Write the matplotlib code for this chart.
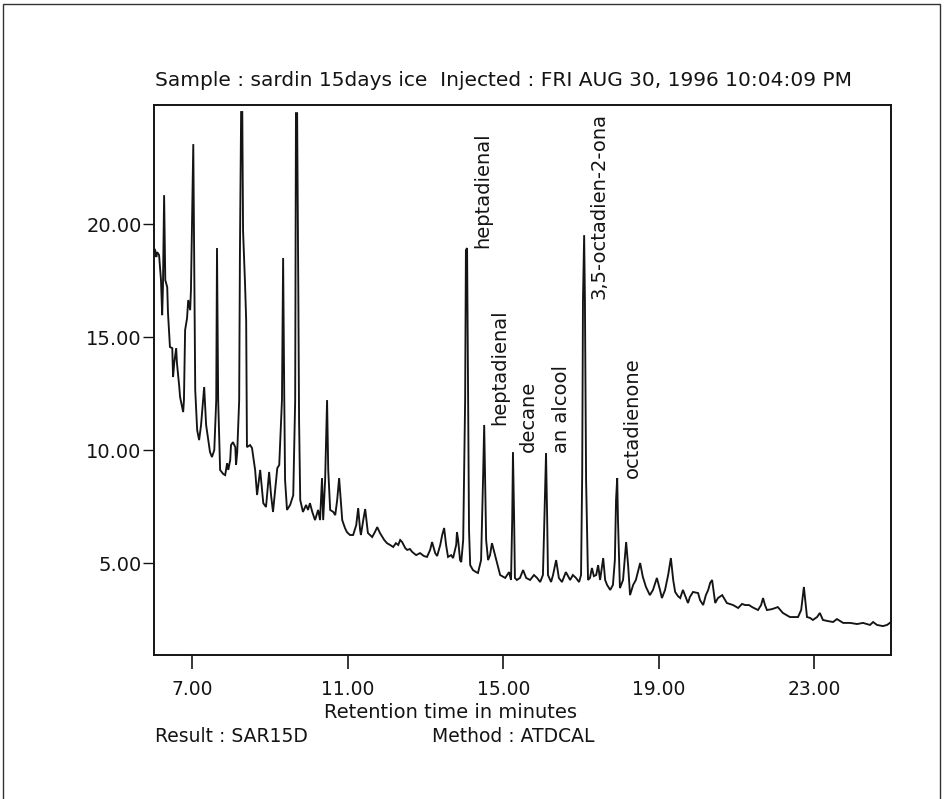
import matplotlib
matplotlib.use("Agg")
import matplotlib.pyplot as plt
from matplotlib.patches import Rectangle

# Chromatogram trace: retention time (min) and detector response
retention_min = [
    6.03, 6.05, 6.08, 6.10, 6.15, 6.20, 6.23, 6.25, 6.28, 6.31, 6.36, 6.38, 6.43, 6.49,
    6.51, 6.54, 6.59, 6.61, 6.67, 6.69, 6.77, 6.79, 6.82, 6.87, 6.90, 6.95, 6.97, 7.03,
    7.08, 7.13, 7.18, 7.23, 7.31, 7.36, 7.39, 7.46, 7.51, 7.57, 7.62, 7.64, 7.67, 7.72,
    7.80, 7.85, 7.90, 7.93, 7.98, 8.00, 8.05, 8.11, 8.13, 8.16, 8.21, 8.23, 8.26, 8.29,
    8.31, 8.36, 8.39, 8.41, 8.49, 8.54, 8.62, 8.67, 8.75, 8.83, 8.90, 8.98, 9.03, 9.08,
    9.19, 9.24, 9.31, 9.34, 9.37, 9.39, 9.44, 9.52, 9.60, 9.65, 9.67, 9.70, 9.73, 9.75,
    9.78, 9.85, 9.93, 9.98, 10.03, 10.09, 10.16, 10.24, 10.29, 10.34, 10.37, 10.42, 10.47,
    10.50, 10.55, 10.63, 10.68, 10.73, 10.78, 10.83, 10.86, 10.93, 10.98, 11.06, 11.14,
    11.22, 11.27, 11.32, 11.34, 11.40, 11.45, 11.52, 11.63, 11.70, 11.76, 11.83, 11.94,
    12.01, 12.09, 12.17, 12.24, 12.30, 12.35, 12.40, 12.48, 12.53, 12.60, 12.66, 12.76,
    12.86, 12.96, 13.04, 13.12, 13.17, 13.25, 13.30, 13.38, 13.43, 13.48, 13.53, 13.58,
    13.66, 13.71, 13.79, 13.81, 13.84, 13.89, 13.92, 13.97, 14.02, 14.04, 14.07, 14.10,
    14.12, 14.15, 14.22, 14.30, 14.35, 14.43, 14.48, 14.51, 14.53, 14.56, 14.61, 14.66,
    14.71, 14.79, 14.84, 14.92, 15.05, 15.15, 15.20, 15.23, 15.25, 15.28, 15.30, 15.35,
    15.43, 15.51, 15.59, 15.69, 15.79, 15.87, 15.95, 16.02, 16.05, 16.10, 16.13, 16.15,
    16.23, 16.28, 16.36, 16.43, 16.51, 16.61, 16.72, 16.79, 16.87, 16.95, 17.00, 17.03,
    17.05, 17.08, 17.10, 17.13, 17.18, 17.23, 17.28, 17.33, 17.39, 17.44, 17.49, 17.57,
    17.62, 17.67, 17.75, 17.82, 17.87, 17.90, 17.93, 17.95, 18.00, 18.08, 18.16, 18.21,
    18.26, 18.34, 18.41, 18.52, 18.59, 18.67, 18.77, 18.85, 18.95, 19.03, 19.08, 19.16,
    19.24, 19.31, 19.37, 19.42, 19.49, 19.55, 19.62, 19.70, 19.75, 19.80, 19.88, 20.01,
    20.06, 20.14, 20.21, 20.27, 20.32, 20.37, 20.45, 20.52, 20.63, 20.75, 20.91, 21.04,
    21.14, 21.22, 21.32, 21.40, 21.55, 21.63, 21.68, 21.73, 21.78, 21.91, 22.06, 22.19,
    22.37, 22.58, 22.66, 22.73, 22.81, 22.89, 22.96, 23.07, 23.14, 23.22, 23.35, 23.48,
    23.58, 23.74, 23.92, 24.10, 24.25, 24.35, 24.43, 24.51, 24.61, 24.76, 24.87, 24.97,
]
response = [
    18.90, 18.85, 18.54, 18.76, 18.63, 17.52, 15.97, 17.21, 21.28, 17.52, 17.21, 16.06, 14.56, 14.51,
    13.23, 13.85, 14.51, 13.85, 12.79, 12.35, 11.68, 12.21, 15.31, 15.84, 16.64, 16.19, 17.08, 23.54,
    12.65, 10.88, 10.44, 11.11, 12.79, 11.11, 10.75, 9.91, 9.69, 10.00, 12.20, 18.94, 12.20, 9.12,
    8.94, 8.89, 9.42, 9.12, 9.56, 10.22, 10.35, 10.13, 9.34, 9.91, 12.20, 18.85, 24.96, 24.96,
    19.70, 17.39, 15.75, 10.13, 10.22, 10.09, 9.12, 8.01, 9.12, 7.65, 7.48, 9.03, 8.00, 7.26,
    9.20, 9.34, 12.20, 18.50, 12.20, 8.67, 7.35, 7.57, 8.00, 12.20, 24.91, 24.91, 17.21, 11.33,
    7.79, 7.26, 7.57, 7.35, 7.65, 7.26, 6.90, 7.35, 6.90, 8.76, 6.90, 8.67, 12.21,
    9.12, 7.35, 7.26, 7.12, 7.79, 8.76, 7.57, 6.90, 6.55, 6.37, 6.24, 6.24,
    6.68, 7.43, 6.46, 6.24, 6.90, 7.39, 6.33, 6.15, 6.37, 6.59, 6.33, 6.02,
    5.88, 5.80, 5.71, 5.88, 5.80, 6.02, 5.93, 5.66, 5.58, 5.62, 5.49, 5.35,
    5.44, 5.31, 5.27, 5.58, 5.93, 5.44, 5.31, 5.80, 6.24, 6.55, 5.80, 5.27,
    5.35, 5.22, 5.80, 6.37, 6.02, 5.13, 5.04, 6.02, 12.21, 18.85, 18.94, 11.33,
    6.46, 4.91, 4.69, 4.60, 4.56, 5.13, 8.67, 11.11, 9.12, 6.02, 5.13, 5.35,
    5.88, 5.35, 5.00, 4.47, 4.34, 4.60, 4.25, 6.90, 9.91, 6.90, 4.34, 4.25,
    4.34, 4.69, 4.34, 4.25, 4.47, 4.34, 4.16, 4.47, 6.42, 9.87, 6.90, 4.47,
    4.16, 4.47, 5.13, 4.34, 4.16, 4.60, 4.25, 4.47, 4.34, 4.16, 4.47, 8.94,
    16.64, 19.51, 16.64, 8.67, 4.25, 4.34, 4.78, 4.42, 4.47, 4.91, 4.25, 5.22,
    4.25, 4.03, 3.81, 4.03, 5.13, 7.79, 8.76, 6.90, 3.89, 4.25, 5.93, 4.91,
    3.58, 4.03, 4.25, 5.00, 4.38, 3.94, 3.58, 3.81, 4.34, 3.81, 3.45, 3.81,
    4.47, 5.22, 4.25, 3.72, 3.54, 3.45, 3.81, 3.45, 3.23, 3.50, 3.72, 3.67,
    3.36, 3.14, 3.58, 3.81, 4.12, 4.25, 3.23, 3.45, 3.58, 3.23, 3.14, 3.01,
    3.19, 3.14, 3.14, 3.05, 2.92, 3.14, 3.45, 3.14, 2.92, 2.96, 3.05, 2.79,
    2.61, 2.61, 2.92, 3.94, 2.61, 2.57, 2.48, 2.61, 2.79, 2.48, 2.43, 2.39,
    2.52, 2.35, 2.35, 2.30, 2.35, 2.30, 2.26, 2.39, 2.26, 2.21, 2.26, 2.39,
]

# Identified compounds
peak_names = ["heptadienal", "heptadienal", "decane", "an alcool",
              "3,5-octadien-2-ona", "octadienone"]
peak_rt = [14.07, 14.51, 15.25, 16.10, 17.08, 17.93]
peak_height = [18.94, 11.11, 9.91, 9.87, 19.51, 8.76]

x_ticks = [7, 11, 15, 19, 23]
y_ticks = [5, 10, 15, 20]

title_text = "Sample : sardin 15days ice  Injected : FRI AUG 30, 1996 10:04:09 PM"
x_label = "Retention time in minutes"
result_text = "Result : SAR15D"
method_text = "Method : ATDCAL"

ink = "#141414"
plt.rcParams["font.family"] = ["DejaVu Sans"]

W, H = 944, 799
fig = plt.figure(figsize=(W / 100, H / 100), dpi=100)
fig.patch.set_facecolor("white")

# page frame
fig.add_artist(Rectangle((3 / W, -0.05), 937 / W, 1.05 - 4 / H,
                         transform=fig.transFigure, fill=False,
                         edgecolor="#333333", linewidth=1.0))

ax = fig.add_axes([154 / W, 1 - 655 / H, (891 - 154) / W, (655 - 105) / H])
ax.plot(retention_min, response, color=ink, linewidth=1.35,
        solid_joinstyle="miter")
ax.set_xlim(6.02, 24.97)
ax.set_ylim(0.93, 25.27)

ax.set_xticks(x_ticks)
ax.set_xticklabels([f"{v:.2f}" for v in x_ticks])
ax.set_yticks(y_ticks)
ax.set_yticklabels([f"{v:.2f}" for v in y_ticks])
ax.tick_params(axis="x", direction="out", length=10, width=1.2, pad=8,
               labelsize=13.5, colors=ink)
ax.tick_params(axis="y", direction="out", length=8, width=1.0, pad=1,
               labelsize=14, colors=ink)
for sp in ax.spines.values():
    sp.set_linewidth(1.4)
    sp.set_color(ink)

anns = []
for name, t, h in zip(peak_names, peak_rt, peak_height):
    a = ax.annotate(name, xy=(t, h), xytext=(11, 0), textcoords="offset points",
                    rotation=90, ha="center", va="bottom", fontsize=14,
                    color=ink)
    anns.append(a)

# keep tall labels inside the plotting box
fig.canvas.draw()
top = ax.get_window_extent().y1 - 8
for a in anns:
    bb = a.get_window_extent()
    if bb.y1 > top:
        a.xyann = (11, -(bb.y1 - top) * 72 / fig.dpi)

fig.text(155 / W, 1 - 81 / H, title_text, ha="left", va="center",
         fontsize=14.5, color=ink)
fig.text(451 / W, 1 - 712 / H, x_label, ha="center", va="center",
         fontsize=14, color=ink)
fig.text(155 / W, 1 - 737 / H, result_text, ha="left", va="center",
         fontsize=13.5, color=ink)
fig.text(432 / W, 1 - 737 / H, method_text, ha="left", va="center",
         fontsize=13.5, color=ink)

fig.savefig("out.png", dpi=100, facecolor="white")
